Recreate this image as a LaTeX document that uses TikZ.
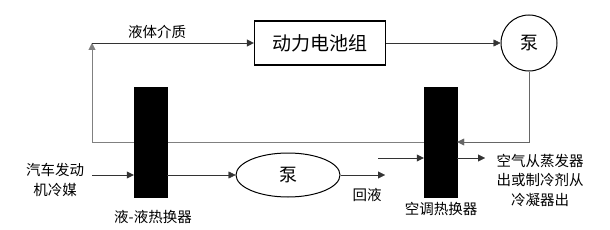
\documentclass[tikz,border=0pt]{standalone}
\usepackage{fontspec}
\newfontfamily\cjk{Noto Sans CJK SC}
\usepackage{tikz}
\usetikzlibrary{arrows.meta,positioning,calc,shapes.geometric}

\tikzset{
  hxbar/.style={fill=black,draw=black,minimum width=33pt,minimum height=110pt,inner sep=0pt},
  lbl/.style={font=\cjk\fontsize{14.5}{19.5}\selectfont,align=center,inner sep=0pt},
}

\begin{document}
\begin{tikzpicture}[x=1pt,y=-1pt,>={Triangle[length=7pt,width=7pt]},thin]
\useasboundingbox (0,0) rectangle (610,230);

\node[draw,line width=1.2pt,minimum width=131pt,minimum height=44pt,font=\cjk\fontsize{19}{19}\selectfont] (batt) at (320,43) {动力电池组};
\node[draw,circle,line width=1pt,minimum size=56pt,inner sep=0pt,font=\cjk\fontsize{18}{18}\selectfont] (pumpa) at (529,43) {泵};
\node[draw,ellipse,line width=1pt,minimum width=104pt,minimum height=44pt,inner sep=0pt,font=\cjk\fontsize{18}{18}\selectfont] (pumpb) at (288,175) {泵};

% liquid loop
\coordinate (top) at (92,43);
\draw[->,gray] (441,142) -| (top);
\draw[->,black!80] (top) -- (batt.west);
\draw[->,black!80] (batt) -- (pumpa);
\node[lbl] (medium) at (157,32) {液体介质};

\node[hxbar] (hxa) at (150.5,142) {};
\node[hxbar] (hxb) at (440.5,142) {};
\draw[->,gray!80!black] (pumpa.south) |- (hxb.east);

% engine coolant side
\node[lbl] (engine) at (55,180) {汽车发动\\机冷媒};
\coordinate (engin) at (92,175);
\draw[->,black!80] (engin) -- (engin -| hxa.west);
\draw[->,black!80] (engin -| hxa.east) -- (pumpb.west);
\coordinate (back) at (385,175);
\draw[->,black!80] (pumpb.east) -- (back);
\node[lbl] (backtxt) at (367,195) {回液};

% air conditioning side
\coordinate (acin) at (378,158);
\coordinate (acout) at (485,158);
\draw[->,black!80] (acin) -- (acin -| hxb.west);
\draw[->,black!80] (acin -| hxb.east) -- (acout);
\node[lbl] (actxt) at (540,180) {空气从蒸发器\\出或制冷剂从\\冷凝器出};

\node[lbl] (hxatxt) at (153,217) {液-液热换器};
\node[lbl] (hxbtxt) at (441,209) {空调热换器};
\end{tikzpicture}
\end{document}
